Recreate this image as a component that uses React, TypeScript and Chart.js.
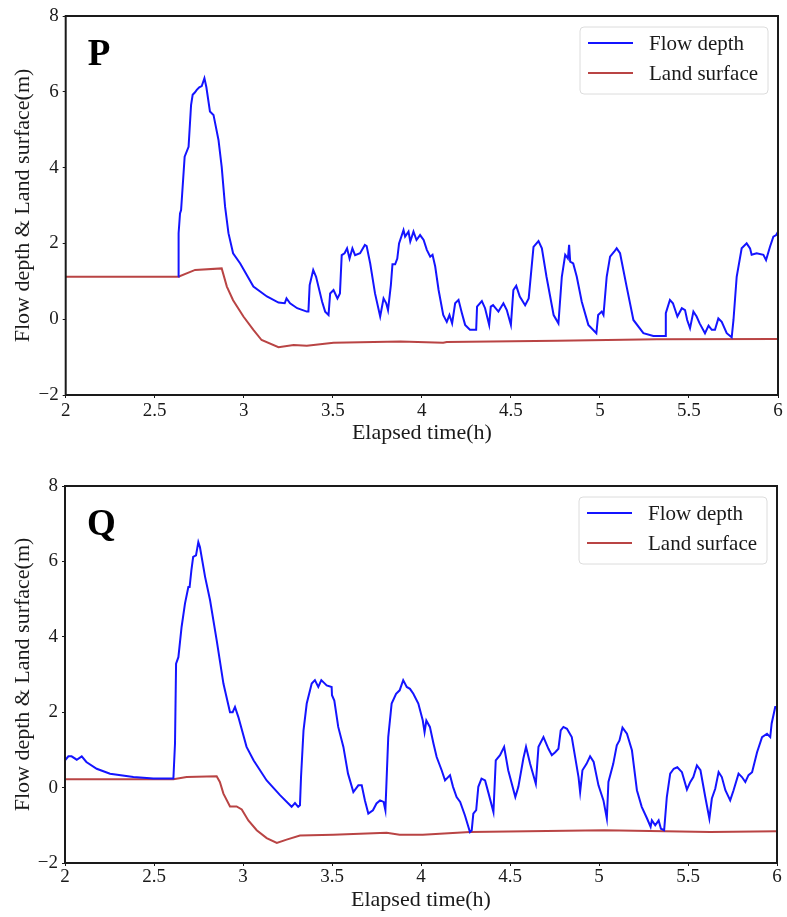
import React, { useEffect, useRef } from "react";
import { Chart, registerables } from "chart.js";

Chart.register(...registerables);

// ---------- shared labels / ticks ----------
const X_TICKS = [2, 2.5, 3, 3.5, 4, 4.5, 5, 5.5, 6];
const Y_TICKS = [-2, 0, 2, 4, 6, 8];
const SERIES_LABELS = ["Flow depth", "Land surface"];
const X_TITLE = "Elapsed time(h)";
const Y_TITLE = "Flow depth & Land surface(m)";
const PANEL_LETTERS = ["P", "Q"];

// ---------- panel P ----------
const pFlowTime = [
  2.633, 2.634, 2.642, 2.648, 2.668, 2.69, 2.704, 2.713, 2.725, 2.736, 2.75, 2.764, 2.779, 2.79, 2.81, 2.83,
  2.858, 2.876, 2.895, 2.914, 2.94, 2.98, 3.054, 3.13, 3.195, 3.23, 3.24, 3.26, 3.3, 3.354, 3.363, 3.37,
  3.39, 3.406, 3.44, 3.457, 3.476, 3.485, 3.504, 3.526, 3.54, 3.55, 3.566, 3.58, 3.594, 3.61, 3.625, 3.653,
  3.68, 3.69, 3.71, 3.737, 3.766, 3.785, 3.8, 3.81, 3.826, 3.835, 3.85, 3.862, 3.872, 3.897, 3.906, 3.925,
  3.935, 3.953, 3.97, 3.99, 4.01, 4.028, 4.047, 4.06, 4.075, 4.094, 4.12, 4.14, 4.155, 4.17, 4.187, 4.206,
  4.225, 4.243, 4.27, 4.305, 4.31, 4.337, 4.355, 4.378, 4.387, 4.4, 4.43, 4.458, 4.477, 4.5, 4.514, 4.53,
  4.55, 4.58, 4.6, 4.627, 4.655, 4.674, 4.7, 4.74, 4.767, 4.786, 4.805, 4.82, 4.827, 4.833, 4.85, 4.87,
  4.898, 4.935, 4.98, 4.99, 5.01, 5.02, 5.038, 5.057, 5.08, 5.094, 5.113, 5.15, 5.188, 5.244, 5.3, 5.366,
  5.37, 5.393, 5.41, 5.435, 5.46, 5.478, 5.49, 5.506, 5.525, 5.543, 5.56, 5.59, 5.61, 5.628, 5.646, 5.665,
  5.684, 5.712, 5.74, 5.75, 5.768, 5.796, 5.824, 5.843, 5.852, 5.88, 5.918, 5.933, 5.955, 5.974, 5.99, 6.0,
];
const pFlowDepth = [
  1.12, 2.27, 2.79, 2.88, 4.29, 4.55, 5.65, 5.92, 5.98, 6.05, 6.12, 6.15, 6.36, 6.12, 5.48, 5.39,
  4.73, 4.02, 2.97, 2.27, 1.74, 1.47, 0.86, 0.6, 0.44, 0.42, 0.55, 0.42, 0.29, 0.2, 0.2, 0.9,
  1.3, 1.12, 0.46, 0.2, 0.11, 0.68, 0.77, 0.55, 0.68, 1.69, 1.74, 1.87, 1.6, 1.87, 1.69, 1.74,
  1.96, 1.93, 1.47, 0.68, 0.07, 0.55, 0.42, 0.24, 0.9, 1.45, 1.45, 1.6, 2.0, 2.35, 2.18, 2.31,
  2.05, 2.31, 2.09, 2.22, 2.09, 1.83, 1.65, 1.7, 1.39, 0.77, 0.11, -0.07, 0.11, -0.11, 0.42, 0.51,
  0.16, -0.15, -0.28, -0.28, 0.33, 0.48, 0.29, -0.15, 0.33, 0.37, 0.2, 0.42, 0.24, -0.15, 0.77, 0.88,
  0.6, 0.37, 0.55, 1.91, 2.06, 1.87, 1.12, 0.11, -0.11, 1.12, 1.7, 1.6, 1.96, 1.52, 1.47, 1.12,
  0.46, -0.15, -0.37, 0.11, 0.2, 0.11, 1.12, 1.65, 1.78, 1.87, 1.74, 0.86, -0.02, -0.37, -0.44, -0.44,
  0.16, 0.51, 0.42, 0.07, 0.29, 0.24, -0.02, -0.24, 0.2, 0.07, -0.11, -0.37, -0.17, -0.28, -0.28, 0.02,
  -0.07, -0.37, -0.48, -0.02, 1.12, 1.87, 2.0, 1.87, 1.7, 1.74, 1.7, 1.56, 1.91, 2.18, 2.22, 2.31,
];
const pLandTime = [
  2.0, 2.633, 2.727, 2.876, 2.905, 2.94, 2.998, 3.054, 3.1, 3.195, 3.28, 3.354, 3.504, 3.88, 4.12, 4.14,
  4.76, 5.32, 6.0,
];
const pLandLevel = [
  1.12, 1.12, 1.3, 1.34, 0.86, 0.5, 0.07, -0.28, -0.55, -0.74, -0.68, -0.7, -0.62, -0.59, -0.62, -0.6,
  -0.57, -0.53, -0.52,
];

// ---------- panel Q ----------
const qFlowTime = [
  2.0, 2.019, 2.037, 2.066, 2.094, 2.12, 2.178, 2.253, 2.384, 2.496, 2.609, 2.618, 2.624, 2.637, 2.655, 2.674,
  2.693, 2.7, 2.71, 2.72, 2.736, 2.749, 2.758, 2.787, 2.815, 2.852, 2.89, 2.927, 2.942, 2.955, 2.974, 3.02,
  3.06, 3.133, 3.208, 3.273, 3.292, 3.31, 3.32, 3.326, 3.34, 3.358, 3.386, 3.404, 3.423, 3.44, 3.47, 3.498,
  3.5, 3.513, 3.535, 3.564, 3.59, 3.62, 3.648, 3.667, 3.685, 3.704, 3.73, 3.75, 3.77, 3.79, 3.8, 3.816,
  3.835, 3.86, 3.88, 3.9, 3.92, 3.938, 3.957, 3.985, 4.01, 4.02, 4.03, 4.05, 4.07, 4.088, 4.116, 4.135,
  4.163, 4.18, 4.2, 4.22, 4.247, 4.275, 4.285, 4.294, 4.31, 4.322, 4.34, 4.36, 4.38, 4.407, 4.42, 4.444,
  4.467, 4.49, 4.53, 4.547, 4.575, 4.59, 4.613, 4.645, 4.66, 4.688, 4.716, 4.735, 4.754, 4.772, 4.785, 4.8,
  4.82, 4.847, 4.866, 4.885, 4.894, 4.907, 4.93, 4.95, 4.97, 4.997, 5.025, 5.044, 5.053, 5.08, 5.1, 5.115,
  5.132, 5.157, 5.185, 5.213, 5.24, 5.27, 5.29, 5.297, 5.316, 5.335, 5.348, 5.366, 5.381, 5.4, 5.42, 5.44,
  5.466, 5.494, 5.513, 5.53, 5.55, 5.57, 5.597, 5.62, 5.634, 5.653, 5.672, 5.69, 5.71, 5.737, 5.756, 5.784,
  5.803, 5.822, 5.84, 5.86, 5.888, 5.916, 5.944, 5.962, 5.97, 5.99, 6.0,
];
const qFlowDepth = [
  0.72, 0.83, 0.83, 0.74, 0.83, 0.68, 0.5, 0.37, 0.28, 0.24, 0.24, 1.17, 3.29, 3.46, 4.26, 4.88,
  5.32, 5.32, 5.76, 6.12, 6.16, 6.51, 6.38, 5.59, 4.97, 3.91, 2.76, 2.0, 2.0, 2.14, 1.87, 1.08,
  0.72, 0.19, -0.2, -0.51, -0.41, -0.51, -0.47, 0.28, 1.52, 2.23, 2.76, 2.85, 2.67, 2.85, 2.71, 2.67,
  2.45, 2.31, 1.61, 1.08, 0.37, -0.12, 0.06, 0.06, -0.34, -0.69, -0.6, -0.42, -0.34, -0.38, -0.6, 1.34,
  2.23, 2.49, 2.58, 2.85, 2.67, 2.62, 2.49, 2.23, 1.78, 1.47, 1.78, 1.61, 1.17, 0.81, 0.46, 0.19,
  0.33, 0.02, -0.25, -0.38, -0.74, -1.18, -1.13, -0.69, -0.6, 0.02, 0.24, 0.19, -0.16, -0.65, 0.72, 0.86,
  1.08, 0.46, -0.25, 0.02, 0.77, 1.08, 0.63, 0.1, 1.08, 1.34, 1.03, 0.86, 0.94, 1.03, 1.52, 1.61,
  1.56, 1.34, 0.81, 0.28, -0.12, 0.46, 0.63, 0.83, 0.68, 0.06, -0.34, -0.82, 0.15, 0.63, 1.12, 1.25,
  1.59, 1.43, 0.99, -0.07, -0.51, -0.82, -1.04, -0.87, -1.0, -0.87, -1.09, -1.13, -0.25, 0.37, 0.5, 0.54,
  0.41, -0.05, 0.15, 0.28, 0.59, 0.46, -0.25, -0.82, -0.29, -0.03, 0.41, 0.28, -0.07, -0.34, -0.07, 0.37,
  0.28, 0.15, 0.33, 0.41, 0.94, 1.34, 1.43, 1.34, 1.7, 2.14, 2.14,
];
const qLandTime = [
  2.0, 2.609, 2.683, 2.852, 2.87, 2.89, 2.927, 2.964, 2.993, 3.03, 3.077, 3.133, 3.19, 3.245, 3.32, 3.507,
  3.695, 3.807, 3.88, 4.01, 4.275, 5.03, 5.625, 6.0,
];
const qLandLevel = [
  0.22, 0.22, 0.28, 0.3, 0.15, -0.16, -0.5, -0.5, -0.58, -0.87, -1.13, -1.34, -1.47, -1.38, -1.27, -1.25,
  -1.22, -1.2, -1.25, -1.25, -1.18, -1.13, -1.18, -1.16,
];

const FLOW_COLOR = "#1414ff";
const LAND_COLOR = "#b94444";
const SERIF = '"Liberation Serif", "Times New Roman", serif';
const INK = "#1a1a1a";

const decorPlugin = {
  id: "decor",
  afterDatasetsDraw(chart: any, _args: any, opts: any) {
    const { ctx, chartArea: a } = chart;
    ctx.save();
    // frame
    ctx.strokeStyle = INK;
    ctx.lineWidth = 2;
    ctx.strokeRect(a.left, a.top, a.right - a.left, a.bottom - a.top);
    // panel letter
    ctx.fillStyle = "#000";
    ctx.font = `bold 37px ${SERIF}`;
    ctx.textAlign = "left";
    ctx.textBaseline = "alphabetic";
    ctx.fillText(opts.letter, a.left + 22, a.top + 49);
    // legend
    const bw = 188;
    const bh = 67;
    const bx = a.right - 10 - bw;
    const by = a.top + 11;
    ctx.beginPath();
    const r = 4;
    ctx.moveTo(bx + r, by);
    ctx.lineTo(bx + bw - r, by);
    ctx.arcTo(bx + bw, by, bx + bw, by + r, r);
    ctx.lineTo(bx + bw, by + bh - r);
    ctx.arcTo(bx + bw, by + bh, bx + bw - r, by + bh, r);
    ctx.lineTo(bx + r, by + bh);
    ctx.arcTo(bx, by + bh, bx, by + bh - r, r);
    ctx.lineTo(bx, by + r);
    ctx.arcTo(bx, by, bx + r, by, r);
    ctx.closePath();
    ctx.fillStyle = "rgba(255,255,255,0.85)";
    ctx.fill();
    ctx.strokeStyle = "#dcdcdc";
    ctx.lineWidth = 1;
    ctx.stroke();
    chart.data.datasets.forEach((ds: any, i: number) => {
      const y = by + 16 + i * 30;
      ctx.strokeStyle = ds.borderColor;
      ctx.lineWidth = 2;
      ctx.beginPath();
      ctx.moveTo(bx + 8, y);
      ctx.lineTo(bx + 53, y);
      ctx.stroke();
      ctx.fillStyle = INK;
      ctx.font = `21px ${SERIF}`;
      ctx.textBaseline = "middle";
      ctx.fillText(ds.label, bx + 69, y + 1);
    });
    ctx.restore();
  },
};

type PanelProps = {
  letter: string;
  flowT: number[];
  flowV: number[];
  landT: number[];
  landV: number[];
  height: number;
  padTop: number;
  padRight: number;
  yWidth: number;
  xHeight: number;
  tickPad: number;
  titlePadBottom: number;
};

function Panel(p: PanelProps) {
  const ref = useRef<HTMLCanvasElement | null>(null);
  useEffect(() => {
    if (!ref.current) return;
    const chart = new Chart(ref.current, {
      type: "line",
      data: {
        datasets: [
          {
            label: SERIES_LABELS[0],
            data: p.flowT.map((t, i) => ({ x: t, y: p.flowV[i] })),
            borderColor: FLOW_COLOR,
            borderWidth: 2,
            pointRadius: 0,
            tension: 0,
            fill: false,
          },
          {
            label: SERIES_LABELS[1],
            data: p.landT.map((t, i) => ({ x: t, y: p.landV[i] })),
            borderColor: LAND_COLOR,
            borderWidth: 2,
            pointRadius: 0,
            tension: 0,
            fill: false,
          },
        ],
      },
      options: {
        animation: false,
        responsive: false,
        events: [],
        layout: { padding: { top: p.padTop, right: p.padRight, left: 0, bottom: 0 } },
        plugins: {
          legend: { display: false },
          tooltip: { enabled: false },
          decor: { letter: p.letter },
        } as any,
        scales: {
          x: {
            type: "linear",
            min: 2,
            max: 6,
            afterBuildTicks: (s: any) => {
              s.ticks = X_TICKS.map((v) => ({ value: v }));
            },
            afterFit: (s: any) => {
              s.height = p.xHeight;
            },
            border: { display: false },
            grid: { display: true, drawOnChartArea: false, drawTicks: true, tickLength: 3, color: INK, lineWidth: 1 },
            ticks: {
              maxRotation: 0,
              autoSkip: false,
              padding: p.tickPad,
              color: INK,
              font: { family: SERIF, size: 19 },
              callback: (v: any) => String(v).replace("-", "\u2212"),
            },
            title: {
              display: true,
              text: X_TITLE,
              color: INK,
              font: { family: SERIF, size: 22 },
              padding: { top: 0, bottom: p.titlePadBottom },
            },
          },
          y: {
            type: "linear",
            min: -2,
            max: 8,
            afterBuildTicks: (s: any) => {
              s.ticks = Y_TICKS.map((v) => ({ value: v }));
            },
            afterFit: (s: any) => {
              s.width = p.yWidth;
            },
            border: { display: false },
            grid: { display: true, drawOnChartArea: false, drawTicks: true, tickLength: 3, color: INK, lineWidth: 1 },
            ticks: {
              padding: 4,
              color: INK,
              font: { family: SERIF, size: 19 },
              callback: (v: any) => String(v).replace("-", "\u2212"),
            },
            title: {
              display: true,
              text: Y_TITLE,
              color: INK,
              font: { family: SERIF, size: 22 },
              padding: { top: 10, bottom: 0 },
            },
          },
        },
      } as any,
      plugins: [decorPlugin],
    });
    return () => chart.destroy();
  }, []);
  return <canvas ref={ref} width={787} height={p.height} style={{ display: "block" }} />;
}

export default function App() {
  return (
    <div style={{ position: "absolute", left: 0, top: 0, width: 787, height: 917, background: "#fff" }}>
      <Panel
        letter={PANEL_LETTERS[0]}
        flowT={pFlowTime}
        flowV={pFlowDepth}
        landT={pLandTime}
        landV={pLandLevel}
        height={458}
        padTop={16}
        padRight={9}
        yWidth={65.7}
        xHeight={63}
        tickPad={1.5}
        titlePadBottom={12}
      />
      <Panel
        letter={PANEL_LETTERS[1]}
        flowT={qFlowTime}
        flowV={qFlowDepth}
        landT={qLandTime}
        landV={qLandLevel}
        height={459}
        padTop={28}
        padRight={10}
        yWidth={65}
        xHeight={54}
        tickPad={0}
        titlePadBottom={3.5}
      />
    </div>
  );
}
